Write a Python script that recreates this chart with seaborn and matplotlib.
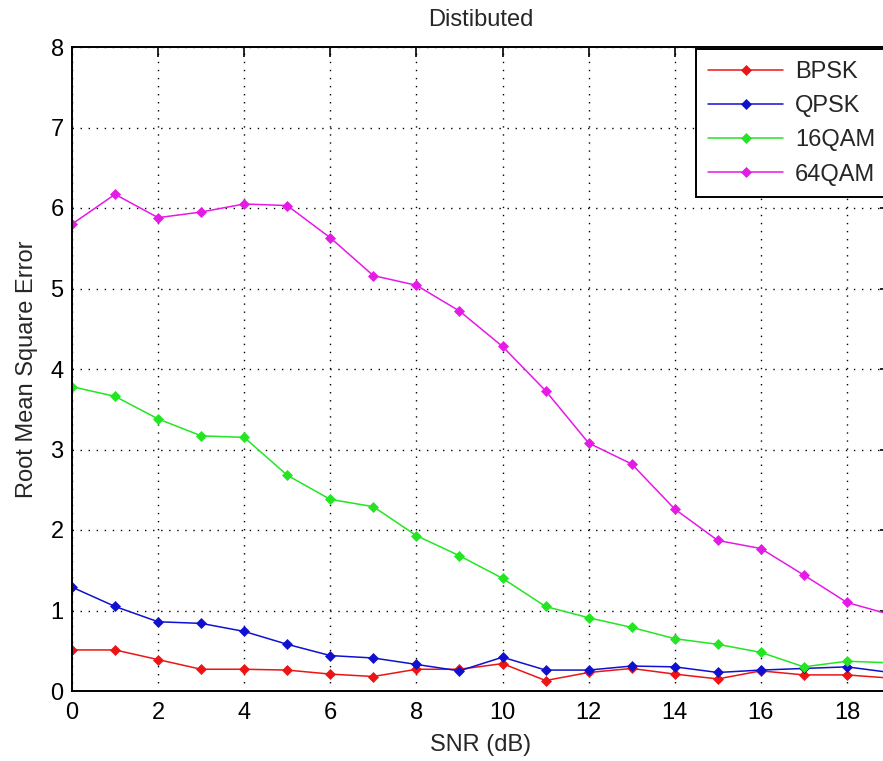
import numpy as np
import pandas as pd
import matplotlib
matplotlib.use("Agg")
import matplotlib.pyplot as plt
import seaborn as sns

snr = list(range(20))
bpsk = [0.51, 0.51, 0.39, 0.27, 0.27, 0.26, 0.21, 0.18, 0.27, 0.27,
        0.34, 0.13, 0.23, 0.28, 0.21, 0.15, 0.25, 0.20, 0.20, 0.16]
qpsk = [1.29, 1.05, 0.86, 0.84, 0.74, 0.58, 0.44, 0.41, 0.33, 0.25,
        0.42, 0.26, 0.26, 0.31, 0.30, 0.23, 0.26, 0.28, 0.30, 0.23]
qam16 = [3.78, 3.66, 3.38, 3.17, 3.15, 2.68, 2.38, 2.29, 1.93, 1.68,
         1.40, 1.05, 0.91, 0.79, 0.65, 0.58, 0.48, 0.30, 0.37, 0.35]
qam64 = [5.80, 6.17, 5.88, 5.95, 6.05, 6.03, 5.63, 5.16, 5.04, 4.72,
         4.28, 3.73, 3.08, 2.82, 2.26, 1.87, 1.77, 1.44, 1.10, 0.95]
series_names = ["BPSK", "QPSK", "16QAM", "64QAM"]
series_values = [bpsk, qpsk, qam16, qam64]
colors = ["#ec1414", "#1010d0", "#22e622", "#e619e6"]
x_ticks = list(range(0, 20, 2))
y_ticks = list(range(0, 9))

sns.set_style("white")
plt.rcParams["font.family"] = ["Liberation Sans", "DejaVu Sans"]
plt.rcParams["font.size"] = 17

W, H = 883, 761
fig = plt.figure(figsize=(W / 100, H / 100), dpi=100)
left, right, top, bottom = 72, 890, 47, 691
ax = fig.add_axes([left / W, (H - bottom) / H, (right - left) / W, (bottom - top) / H])

for name, vals, c in zip(series_names, series_values, colors):
    df = pd.DataFrame({"SNR": snr, "RMSE": vals})
    sns.lineplot(data=df, x="SNR", y="RMSE", ax=ax, color=c, lw=1.1,
                 marker="D", markersize=5.5, markeredgewidth=0.5,
                 markeredgecolor=c, label=name)

ax.set_xlim(0, 19)
ax.set_ylim(0, 8)
ax.set_xticks(x_ticks)
ax.set_yticks(y_ticks)
ax.grid(True, color="black", linestyle=(0, (1, 4.8)), linewidth=1.0)
ax.tick_params(direction="in", length=7, width=1.2, top=True, right=True,
               labelsize=17, colors="black")
ax.tick_params(axis="x", pad=8)
ax.tick_params(axis="y", pad=6)
for s in ax.spines.values():
    s.set_color("black")
    s.set_linewidth(1.4)

ax.set_xlabel("SNR (dB)", fontsize=17, labelpad=7)
ax.set_ylabel("Root Mean Square Error", fontsize=17, labelpad=9)
ax.set_title("Distibuted", fontsize=17, pad=15)

leg = ax.legend(loc="upper left", bbox_to_anchor=(696 / W, 1 - 49 / H),
                bbox_transform=fig.transFigure, borderaxespad=0,
                fontsize=17, frameon=True, fancybox=False, framealpha=1,
                edgecolor="black", handlelength=3.2, handletextpad=0.5,
                borderpad=0.5, labelspacing=0.52)
leg.get_frame().set_linewidth(1.4)

fig.savefig("out.png", dpi=100)
